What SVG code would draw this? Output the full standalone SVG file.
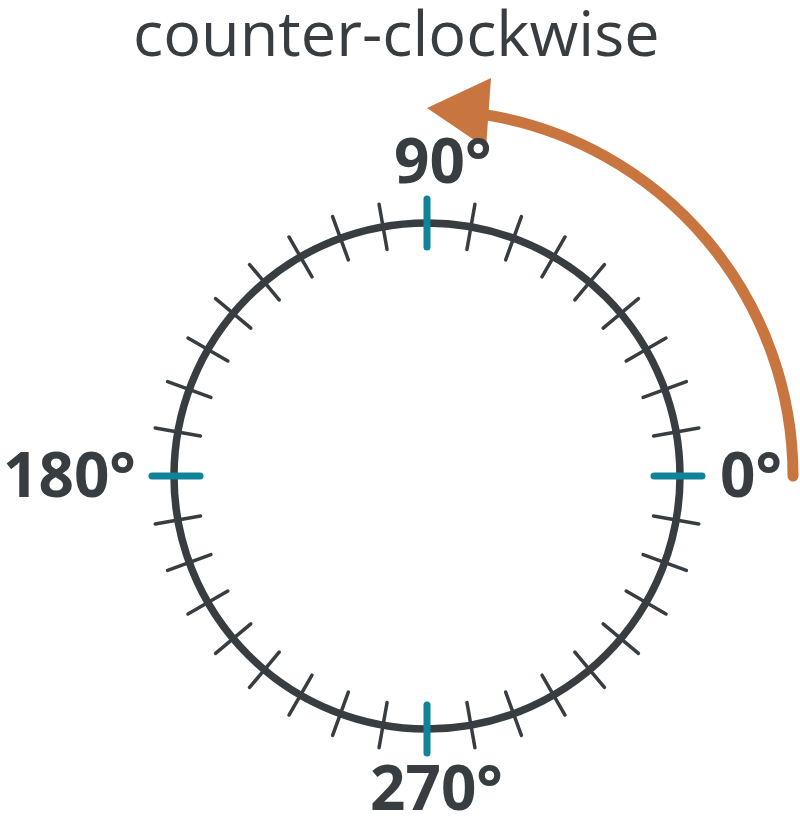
<svg xmlns="http://www.w3.org/2000/svg" width="800" height="830" viewBox="0 0 800 830">
<style>
.lbl{font-family:"Open Sans","Liberation Sans",sans-serif;font-weight:700;font-size:62px;fill:#373d40}
.title{font-family:"Open Sans","Liberation Sans",sans-serif;font-size:63px;fill:#373d40}
.minor{stroke:#373d40;stroke-width:3.5;stroke-linecap:round}
.major{stroke:#0e8399;stroke-width:7;stroke-linecap:round}
</style>
<rect width="800" height="830" fill="#ffffff"/>
<text class="title" x="133" y="56">counter-clockwise</text>
<g id="arrow">
<path d="M793,476 A366,366 0 0 0 489,115.3" fill="none" stroke="#c97540" stroke-width="11" stroke-linecap="round"/>
<polygon points="427,108 491,78 486,148" fill="#c97540"/>
</g>
<g id="dial">
<circle cx="427" cy="476" r="253" fill="none" stroke="#373d40" stroke-width="7.5"/>
<g id="minor-ticks" class="minor">
<line x1="657" y1="476" x2="703" y2="476" transform="rotate(-10 427 476)"/>
<line x1="657" y1="476" x2="703" y2="476" transform="rotate(-20 427 476)"/>
<line x1="657" y1="476" x2="703" y2="476" transform="rotate(-30 427 476)"/>
<line x1="657" y1="476" x2="703" y2="476" transform="rotate(-40 427 476)"/>
<line x1="657" y1="476" x2="703" y2="476" transform="rotate(-50 427 476)"/>
<line x1="657" y1="476" x2="703" y2="476" transform="rotate(-60 427 476)"/>
<line x1="657" y1="476" x2="703" y2="476" transform="rotate(-70 427 476)"/>
<line x1="657" y1="476" x2="703" y2="476" transform="rotate(-80 427 476)"/>
<line x1="657" y1="476" x2="703" y2="476" transform="rotate(-100 427 476)"/>
<line x1="657" y1="476" x2="703" y2="476" transform="rotate(-110 427 476)"/>
<line x1="657" y1="476" x2="703" y2="476" transform="rotate(-120 427 476)"/>
<line x1="657" y1="476" x2="703" y2="476" transform="rotate(-130 427 476)"/>
<line x1="657" y1="476" x2="703" y2="476" transform="rotate(-140 427 476)"/>
<line x1="657" y1="476" x2="703" y2="476" transform="rotate(-150 427 476)"/>
<line x1="657" y1="476" x2="703" y2="476" transform="rotate(-160 427 476)"/>
<line x1="657" y1="476" x2="703" y2="476" transform="rotate(-170 427 476)"/>
<line x1="657" y1="476" x2="703" y2="476" transform="rotate(-190 427 476)"/>
<line x1="657" y1="476" x2="703" y2="476" transform="rotate(-200 427 476)"/>
<line x1="657" y1="476" x2="703" y2="476" transform="rotate(-210 427 476)"/>
<line x1="657" y1="476" x2="703" y2="476" transform="rotate(-220 427 476)"/>
<line x1="657" y1="476" x2="703" y2="476" transform="rotate(-230 427 476)"/>
<line x1="657" y1="476" x2="703" y2="476" transform="rotate(-240 427 476)"/>
<line x1="657" y1="476" x2="703" y2="476" transform="rotate(-250 427 476)"/>
<line x1="657" y1="476" x2="703" y2="476" transform="rotate(-260 427 476)"/>
<line x1="657" y1="476" x2="703" y2="476" transform="rotate(-280 427 476)"/>
<line x1="657" y1="476" x2="703" y2="476" transform="rotate(-290 427 476)"/>
<line x1="657" y1="476" x2="703" y2="476" transform="rotate(-300 427 476)"/>
<line x1="657" y1="476" x2="703" y2="476" transform="rotate(-310 427 476)"/>
<line x1="657" y1="476" x2="703" y2="476" transform="rotate(-320 427 476)"/>
<line x1="657" y1="476" x2="703" y2="476" transform="rotate(-330 427 476)"/>
<line x1="657" y1="476" x2="703" y2="476" transform="rotate(-340 427 476)"/>
<line x1="657" y1="476" x2="703" y2="476" transform="rotate(-350 427 476)"/>
</g>
<g id="major-ticks" class="major">
<line x1="654" y1="476" x2="702" y2="476"/>
<line x1="427" y1="199" x2="427" y2="247"/>
<line x1="152" y1="476" x2="200" y2="476"/>
<line x1="427" y1="705" x2="427" y2="753"/>
</g>
</g>
<g id="labels">
<text class="lbl" x="720" y="497">0°</text>
<text class="lbl" x="394" y="183">90°</text>
<text class="lbl" x="3" y="497">180°</text>
<text class="lbl" x="370" y="810">270°</text>
</g>
</svg>
